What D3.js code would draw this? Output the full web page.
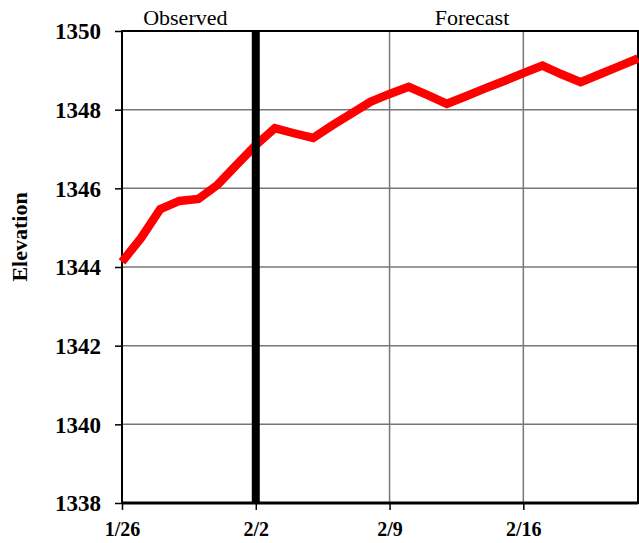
<!DOCTYPE html>
<html>
<head>
<meta charset="utf-8">
<script src="https://cdn.jsdelivr.net/npm/d3@7"></script>
<style>
  body { margin: 0; background: #fff; }
  text { font-family: "Liberation Serif", "Times New Roman", serif; }
</style>
</head>
<body>
<svg id="chart" width="639" height="543"></svg>
<script>
// Daily elevation, observed through 2/2, forecast after
const dates = [
  "01-26", "01-27", "01-28", "01-29", "01-30", "01-31", "02-01", "02-02",
  "02-03", "02-04", "02-05", "02-06", "02-07", "02-08", "02-09", "02-10",
  "02-11", "02-12", "02-13", "02-14", "02-15", "02-16", "02-17", "02-18",
  "02-19", "02-20", "02-21", "02-22"
]
const elevation = [
  1344.13, 1344.74, 1345.47, 1345.68, 1345.73, 1346.09, 1346.6, 1347.1,
  1347.53, 1347.4, 1347.28, 1347.6, 1347.9, 1348.2, 1348.4, 1348.58,
  1348.37, 1348.15, 1348.34, 1348.54, 1348.73, 1348.93, 1349.12, 1348.9,
  1348.7, 1348.9, 1349.1, 1349.3
]
const xTickLabels = ["01-26", "02-02", "02-09", "02-16"]
const yTicks = [1338, 1340, 1342, 1344, 1346, 1348, 1350]
const splitDate = "02-02"
const sections = [
  { label: "Observed", at: "01-29" },
  { label: "Forecast", at: "02-13" },
]

const parse = s => new Date(`2021-${s}T00:00:00`)
const fmt = d3.timeFormat("%-m/%-d")

const svg = d3.select("#chart")
const margin = { top: 31, right: 1, bottom: 40, left: 122 }
const width = 639 - margin.left - margin.right
const height = 543 - margin.top - margin.bottom

const x = d3.scaleTime()
  .domain([parse("01-26"), parse("02-22")])
  .range([0, width])
const y = d3.scaleLinear().domain([1338, 1350]).range([height, 0])

const g = svg.append("g").attr("transform", `translate(${margin.left},${margin.top})`)

// gridlines
g.append("g")
  .selectAll("line")
  .data(yTicks)
  .join("line")
  .attr("x1", 0).attr("x2", width)
  .attr("y1", d => y(d)).attr("y2", d => y(d))
  .attr("stroke", "#777").attr("stroke-width", 1.5)
g.append("g")
  .selectAll("line")
  .data(xTickLabels.slice(1))
  .join("line")
  .attr("x1", d => x(parse(d))).attr("x2", d => x(parse(d)))
  .attr("y1", 0).attr("y2", height)
  .attr("stroke", "#777").attr("stroke-width", 1.5)

// axes
const yAxis = g.append("g")
  .call(d3.axisLeft(y).tickValues(yTicks).tickSize(7).tickPadding(14).tickFormat(d3.format("d")))
const xAxis = g.append("g")
  .attr("transform", `translate(0,${height})`)
  .call(d3.axisBottom(x).tickValues(xTickLabels.map(parse)).tickSize(7).tickPadding(12).tickFormat(fmt))
;[yAxis, xAxis].forEach(a => {
  a.select(".domain").remove()
  a.selectAll("line").attr("stroke", "#000").attr("stroke-width", 1.5)
  a.selectAll("text")
    .attr("fill", "#000")
    .style("font-weight", "bold")
})
yAxis.selectAll("text").style("font-size", "23px").attr("dy", "0.34em")
xAxis.selectAll("text").style("font-size", "20px")

// frame
g.append("rect")
  .attr("width", width).attr("height", height)
  .attr("fill", "none").attr("stroke", "#000").attr("stroke-width", 2)
g.append("line")
  .attr("x1", 0).attr("x2", width).attr("y1", height).attr("y2", height)
  .attr("stroke", "#000").attr("stroke-width", 3)

// elevation line
const data = dates.map((d, i) => ({ date: parse(d), value: elevation[i] }))
g.append("path")
  .datum(data)
  .attr("fill", "none")
  .attr("stroke", "#ff0000")
  .attr("stroke-width", 8.5)
  .attr("stroke-linejoin", "miter")
  .attr("d", d3.line().x(d => x(d.date)).y(d => y(d.value)))

// observed / forecast divider
g.append("line")
  .attr("x1", x(parse(splitDate))).attr("x2", x(parse(splitDate)))
  .attr("y1", 0).attr("y2", height)
  .attr("stroke", "#000").attr("stroke-width", 8)

g.selectAll(".section")
  .data(sections)
  .join("text")
  .attr("class", "section")
  .attr("x", d => x(parse(d.at)) + 6)
  .attr("y", -6)
  .attr("text-anchor", "middle")
  .style("font-size", "22px")
  .text(d => d.label)

// y title
svg.append("text")
  .attr("transform", "translate(27,237) rotate(-90)")
  .attr("text-anchor", "middle")
  .style("font-size", "22px")
  .style("font-weight", "bold")
  .text("Elevation")
</script>
</body>
</html>
